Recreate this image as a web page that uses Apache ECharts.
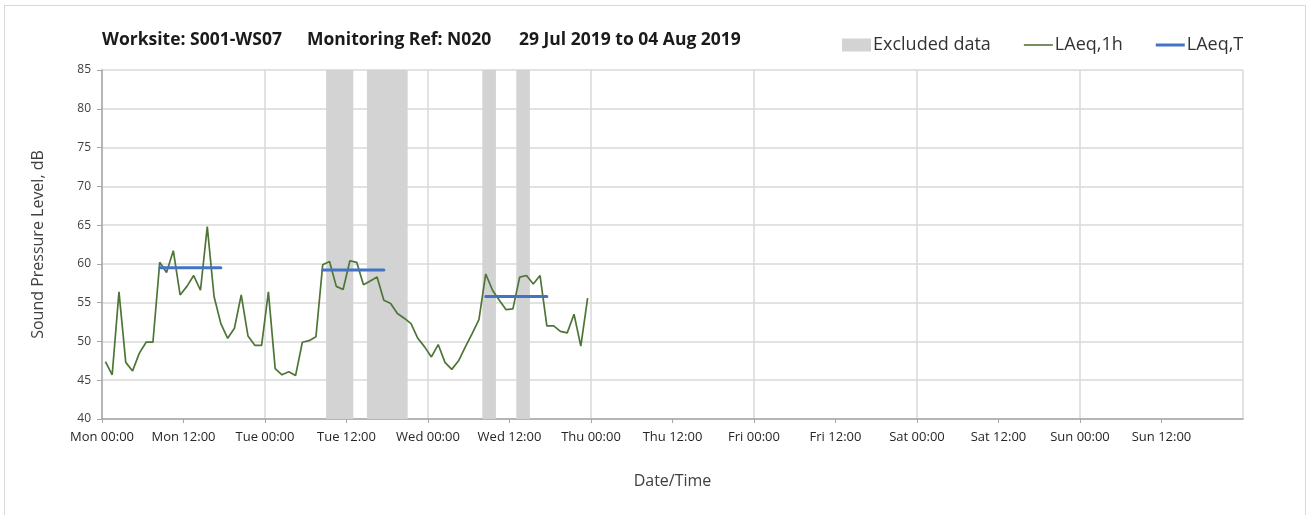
<!DOCTYPE html>
<html>
<head>
<meta charset="utf-8">
<title>Noise monitoring N020</title>
<script src="https://cdn.jsdelivr.net/npm/echarts@6/dist/echarts.min.js"></script>
<style>
  html, body { margin: 0; padding: 0; background: #fff; }
  #frame { position: absolute; left: 4px; top: 5px; width: 1302px; height: 512px; border: 1px solid #d9d9d9; box-sizing: border-box; }
  #chart { position: absolute; left: 0; top: 0; width: 1309px; height: 515px; }
</style>
</head>
<body>
<div id="frame"></div>
<div id="chart"></div>
<script>
// Hourly LAeq,1h values (dB), hour 0 = Mon 00:00; each value plotted at the middle of its hour
const laeq1h = [
  47.4, 45.7, 56.4, 47.3, 46.2, 48.5, 49.9, 49.9, 60.2, 58.9, 61.7, 56.0,
  57.1, 58.5, 56.6, 64.8, 55.8, 52.3, 50.4, 51.7, 56.0, 50.7, 49.5, 49.5,
  56.4, 46.5, 45.7, 46.1, 45.6, 49.9, 50.1, 50.6, 59.9, 60.3, 57.1, 56.7,
  60.4, 60.2, 57.3, 57.8, 58.3, 55.3, 54.9, 53.6, 53.0, 52.3, 50.4, 49.3,
  48.0, 49.6, 47.3, 46.4, 47.5, 49.3, 51.0, 52.8, 58.7, 56.6, 55.3, 54.1,
  54.2, 58.3, 58.5, 57.4, 58.5, 52.0, 52.0, 51.3, 51.1, 53.5, 49.4, 55.6
];

// Daytime LAeq,T periods: start hour, end hour, level (dB)
const laeqTStart = [8.5, 32.5, 56.5];
const laeqTEnd = [17.5, 41.5, 65.5];
const laeqTLevel = [59.5, 59.2, 55.8];

// Excluded data periods (hours from Mon 00:00)
const excludedStart = [33, 39, 56, 61];
const excludedEnd = [37, 45, 58, 63];

// X-axis tick labels, one every 12 hours
const tickLabels = [
  'Mon 00:00', 'Mon 12:00', 'Tue 00:00', 'Tue 12:00', 'Wed 00:00', 'Wed 12:00',
  'Thu 00:00', 'Thu 12:00', 'Fri 00:00', 'Fri 12:00', 'Sat 00:00', 'Sat 12:00',
  'Sun 00:00', 'Sun 12:00'
];

const titleParts = ['Worksite: S001-WS07', 'Monitoring Ref: N020', '29 Jul 2019 to 04 Aug 2019'];

const FONT = '"Open Sans", "Noto Sans", sans-serif';
const GREEN = '#4e7536';
const BLUE = '#4472c4';
const BAND = '#d3d3d3';
const GRID = '#d9d9d9';
const AXIS = '#a6a6a6';

const lineData = laeq1h.map((v, i) => [i + 0.5, v]);

const laeqTData = [];
laeqTStart.forEach((s, k) => {
  if (k > 0) laeqTData.push([null, null]);
  laeqTData.push([s, laeqTLevel[k]]);
  laeqTData.push([laeqTEnd[k], laeqTLevel[k]]);
});

const chart = echarts.init(document.getElementById('chart'), null, { renderer: 'canvas' });

const titleFont = 'bold 17.5px ' + FONT;

chart.setOption({
  animation: false,
  backgroundColor: 'transparent',
  textStyle: { fontFamily: FONT },
  grid: { left: 102, right: 66, top: 70, bottom: 96 },
  graphic: [
    { type: 'text', left: 102, top: 31, style: { text: titleParts[0], font: titleFont, fill: '#1a1a1a' } },
    { type: 'text', left: 307, top: 31, style: { text: titleParts[1], font: titleFont, fill: '#1a1a1a' } },
    { type: 'text', left: 519, top: 31, style: { text: titleParts[2], font: titleFont, fill: '#1a1a1a' } }
  ],
  legend: {
    left: 837,
    top: 31,
    itemWidth: 29,
    itemHeight: 13,
    itemGap: 33,
    textStyle: { fontSize: 18, color: '#333', fontFamily: FONT, padding: [0, 0, 0, -3] },
    data: [
      { name: 'Excluded data', icon: 'rect', itemStyle: { color: BAND } },
      // thin horizontal bars as keys for the two line series
      { name: 'LAeq,1h', icon: 'path://M0,0 H29 V1.6 H0 Z', itemStyle: { color: GREEN } },
      { name: 'LAeq,T', icon: 'path://M0,0 H29 V3 H0 Z', itemStyle: { color: BLUE } }
    ]
  },
  xAxis: [
    {
      type: 'value',
      min: 0,
      max: 168,
      interval: 12,
      name: 'Date/Time',
      nameLocation: 'middle',
      nameGap: 54,
      nameTextStyle: { fontSize: 16, color: '#404040' },
      axisLine: { show: true, lineStyle: { color: AXIS, width: 1.5 } },
      axisTick: { show: true, length: 4, lineStyle: { color: AXIS } },
      axisLabel: {
        show: true,
        showMaxLabel: false,
        fontSize: 13,
        color: '#262626',
        margin: 12,
        formatter: v => tickLabels[Math.round(v / 12)] || ''
      },
      splitLine: { show: false }
    },
    {
      type: 'value',
      min: 0,
      max: 168,
      interval: 24,
      position: 'bottom',
      axisLine: { show: false },
      axisTick: { show: false },
      axisLabel: { show: false },
      splitLine: { show: true, lineStyle: { color: GRID, width: 1.5 } }
    }
  ],
  yAxis: {
    type: 'value',
    min: 40,
    max: 85,
    interval: 5,
    name: 'Sound Pressure Level, dB',
    nameLocation: 'middle',
    nameGap: 56,
    nameTextStyle: { fontSize: 16, color: '#404040' },
    axisLine: { show: true, lineStyle: { color: AXIS, width: 1.5 } },
    axisTick: { show: true, length: 5, lineStyle: { color: AXIS } },
    axisLabel: { fontSize: 12, color: '#404040', margin: 11 },
    splitLine: { show: true, lineStyle: { color: GRID, width: 1.5 } }
  },
  series: [
    {
      name: 'Excluded data',
      type: 'line',
      xAxisIndex: 0,
      data: [],
      itemStyle: { color: BAND },
      lineStyle: { color: BAND },
      markArea: {
        silent: true,
        itemStyle: { color: BAND, opacity: 1 },
        data: excludedStart.map((s, k) => [{ xAxis: s }, { xAxis: excludedEnd[k] }])
      },
      z: 1
    },
    {
      name: 'LAeq,1h',
      type: 'line',
      xAxisIndex: 0,
      data: lineData,
      showSymbol: false,
      symbol: 'none',
      itemStyle: { color: GREEN },
      lineStyle: { color: GREEN, width: 1.7 },
      z: 3
    },
    {
      name: 'LAeq,T',
      type: 'line',
      xAxisIndex: 0,
      data: laeqTData,
      connectNulls: false,
      showSymbol: false,
      symbol: 'none',
      itemStyle: { color: BLUE },
      lineStyle: { color: BLUE, width: 3, cap: 'round' },
      z: 4
    }
  ]
});
</script>
</body>
</html>
